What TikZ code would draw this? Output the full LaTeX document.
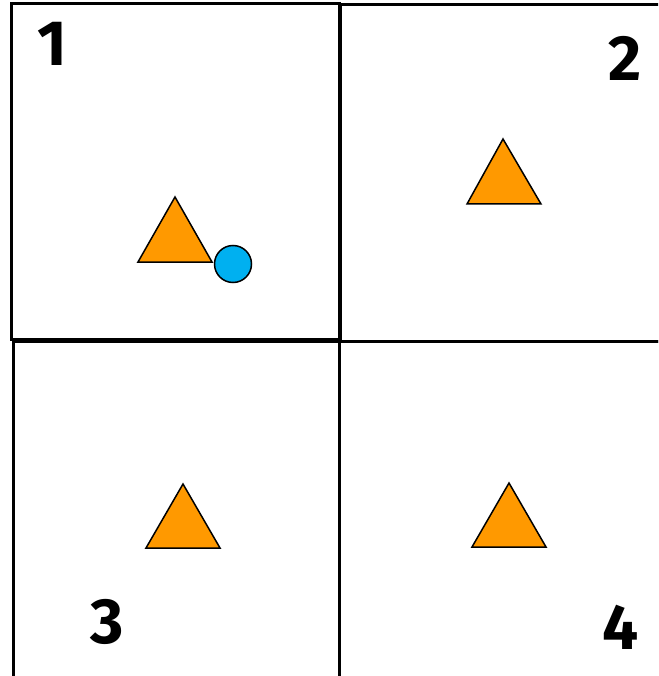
\documentclass[tikz,border=0pt]{standalone}
\usepackage{fontspec}
\setmainfont{Fira Sans}
\usetikzlibrary{positioning}
\definecolor{triorange}{HTML}{FF9900}
\definecolor{dotblue}{HTML}{00B0F0}

\begin{document}
\begin{tikzpicture}[x=1pt,y=-1pt,
panel/.style={line width=3pt},
tri/.style={draw,fill=triorange,line width=1.5pt,line join=miter},
num/.style={font=\fontsize{64}{64}\selectfont\bfseries,inner sep=0pt}]
\useasboundingbox (0,0) rectangle (658,676);
\clip (0,0) rectangle (658,676);
% the four panels
\draw[panel] (11,4) rectangle (339,339);
\draw[panel] (340,5) rectangle (700,341);
\draw[panel] (13,341) rectangle (339,720);
\draw[panel] (339,341) rectangle (700,720);
% numbers
\node[num] (N1) at (52,44) {1};
\node[num] (N2) at (625,58) {2};
\node[num] (N3) at (107,622) {3};
\node[num] (N4) at (621,627) {4};
% triangles
\draw[tri] (175,197)--(212,262)--(138,262)--cycle;
\draw[tri] (503,139)--(541,204)--(467,204)--cycle;
\draw[tri] (183,484)--(220,548)--(146,548)--cycle;
\draw[tri] (509,483)--(546,547)--(472,547)--cycle;
% the dot
\node[circle,draw,fill=dotblue,line width=1.5pt,minimum size=37pt,inner sep=0pt] (D) at (233,264) {};
\end{tikzpicture}
\end{document}
